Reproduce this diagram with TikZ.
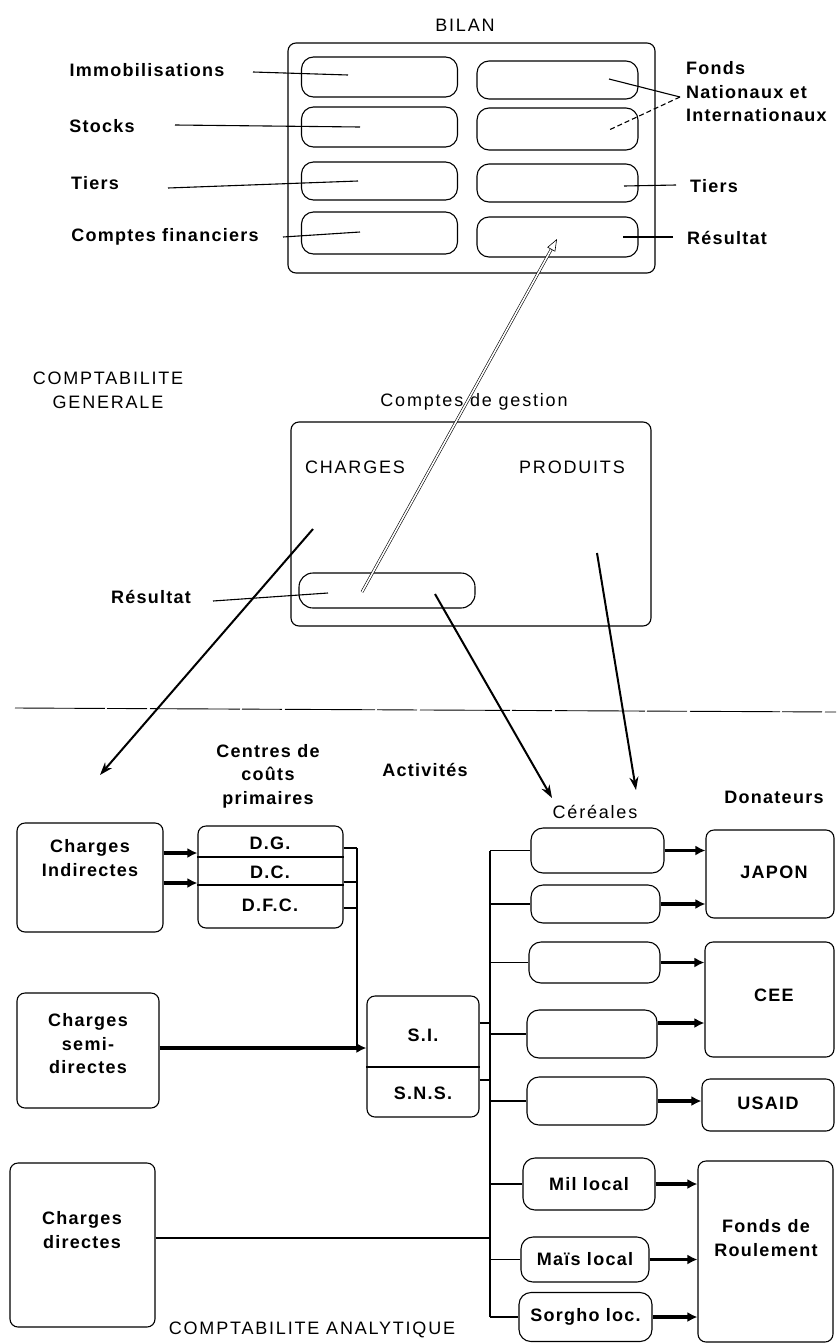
\documentclass[tikz,border=0pt]{standalone}
\usepackage{fontspec}
\setmainfont{Liberation Sans}
\newfontfamily\labfont{Liberation Sans}[LetterSpace=7]
\newfontfamily\ttlfont{Liberation Sans}[LetterSpace=10]
\usetikzlibrary{arrows.meta}
\begin{document}
\begin{tikzpicture}[x=1pt,y=-1pt,
  box/.style={draw, line width=1.1pt, rounded corners=8pt, inner sep=0pt},
  pill/.style={draw, line width=1.1pt, rounded corners=12pt, inner sep=0pt},
  lab/.style={font=\labfont\fontsize{18}{23.5}\selectfont\bfseries, inner sep=0pt, align=center},
  ttl/.style={font=\ttlfont\fontsize{18}{24}\selectfont, inner sep=0pt, align=center},
  ln/.style={line width=1.1pt},
  big/.style={line width=2pt, -{Stealth[length=13pt,width=9pt]}},
  fat/.style={line width=3.4pt, -{Latex[length=10pt,width=10pt]}},
  dbl/.style={double, double distance=1.6pt, line width=0.6pt, -{Triangle[open,length=12pt,width=9pt]}},
]
\useasboundingbox (0,0) rectangle (836,1344);

% ---------------- BILAN ----------------
\node[ttl] (bilan) at (465,25) {BILAN};
\node[box, minimum width=367pt, minimum height=230pt] (bb) at (471.5,158) {};
\node[pill, minimum width=156pt, minimum height=40pt] (l1) at (379.5,77) {};
\node[pill, minimum width=156pt, minimum height=40pt] (l2) at (379.5,127) {};
\node[pill, minimum width=156pt, minimum height=38pt] (l3) at (379.5,181) {};
\node[pill, minimum width=156pt, minimum height=42pt] (l4) at (379.5,233) {};
\node[pill, minimum width=161pt, minimum height=38pt] (r1) at (557.5,80) {};
\node[pill, minimum width=161pt, minimum height=42pt] (r2) at (557.5,129) {};
\node[pill, minimum width=161pt, minimum height=38pt] (r3) at (557.5,183) {};
\node[pill, minimum width=161pt, minimum height=40pt] (r4) at (557.5,237) {};

\node[lab] (immo) at (147,70) {Immobilisations};
\node[lab] (stocks) at (102,126) {Stocks};
\node[lab] (tiersl) at (95,183) {Tiers};
\node[lab] (cf) at (165,237) {Comptes financiers};
\coordinate (e1) at (348,75);
\coordinate (e2) at (360,127);
\coordinate (e3) at (358,181);
\coordinate (e4) at (360,232);
\draw[ln] (253,72) -- (e1);
\draw[ln] (175,125) -- (e2);
\draw[ln] (168,188) -- (e3);
\draw[ln] (283,237) -- (e4);

\node[lab, align=left, anchor=west] (fni) at (686,92) {Fonds\\Nationaux et\\Internationaux};
\coordinate (fk) at (680,97);
\coordinate (f1) at (609,79);
\coordinate (f2) at (609,130);
\draw[ln] (fk) -- (f1);
\draw[ln, dash pattern=on 5pt off 3pt] (fk) -- (f2);

\node[lab] (tiersr) at (714,186) {Tiers};
\coordinate (t2) at (624,186);
\draw[ln] (676,185) -- (t2);
\node[lab] (resr) at (727,238) {Résultat};
\coordinate (rr) at (623,237);
\draw[ln] (673,237) -- (rr);

% ---------------- Comptes de gestion ----------------
\node[ttl] (cg) at (108,390) {COMPTABILITE\\GENERALE};
\node[ttl] (cdg) at (474,402) {Comptes de gestion};
\node[box, minimum width=360pt, minimum height=204pt] (gest) at (471,524) {};
\node[ttl] (charges) at (355,467) {CHARGES};
\node[ttl] (produits) at (572,467) {PRODUITS};
\node[pill, minimum width=176pt, minimum height=35pt, rounded corners=14pt] (gres) at (387,590.5) {};
\node[lab] (resl) at (151,597) {Résultat};
\coordinate (gr1) at (328,593);
\draw[ln] (213,601) -- (gr1);

\coordinate (ds) at (362,592);
\coordinate (de) at (557,239);
\draw[dbl] (ds) -- (de);

\coordinate (a1s) at (313,529);
\coordinate (a1e) at (100,775);
\coordinate (a2s) at (435,594);
\coordinate (a2e) at (552,798);
\coordinate (a3s) at (597,553);
\coordinate (a3e) at (636,790);
\draw[big] (a1s) -- (a1e);
\draw[big] (a2s) -- (a2e);
\draw[big] (a3s) -- (a3e);

\draw[line width=0.9pt, dash pattern=on 90pt off 2pt on 40pt off 3pt] (15,708) -- (836,712);

% ---------------- Analytique ----------------
\node[lab] (centres) at (268,776) {Centres de\\coûts\\primaires};
\node[lab] (activ) at (425,770) {Activités};
\node[ttl] (cer) at (595,812) {Céréales};
\node[lab] (don) at (774,797) {Donateurs};

\node[box, minimum width=146pt, minimum height=109pt] (ci) at (90,877.5) {};
\node[lab] (cit) at (90,858) {Charges\\Indirectes};
\node[box, minimum width=145pt, minimum height=102pt] (cc) at (270.5,877) {};
\draw[ln] (cc.west |- 0,857) -- (cc.east |- 0,857);
\draw[ln] (cc.west |- 0,885) -- (cc.east |- 0,885);
\node[lab] (dg) at (270,843) {D.G.};
\node[lab] (dc) at (270,872) {D.C.};
\node[lab] (dfc) at (270,905) {D.F.C.};
\draw[fat] (ci.east |- 0,853) -- (cc.west |- 0,853);
\draw[fat] (ci.east |- 0,883) -- (cc.west |- 0,883);

\coordinate (vx) at (357,1048);
\draw[ln] (cc.east |- 0,848) -- (vx |- 0,848);
\draw[ln] (cc.east |- 0,882) -- (vx |- 0,882);
\draw[ln] (cc.east |- 0,908) -- (vx |- 0,908);
\draw[ln] (vx |- 0,848) -- (vx);

\node[box, minimum width=142pt, minimum height=115pt] (csd) at (88,1050.5) {};
\node[lab] (csdt) at (88,1044) {Charges\\semi-\\directes};
\node[box, minimum width=112pt, minimum height=121pt] (sis) at (423,1056.5) {};
\draw[ln] (sis.west |- 0,1067) -- (sis.east |- 0,1067);
\node[lab] (si) at (423,1035) {S.I.};
\node[lab] (sns) at (423,1093) {S.N.S.};
\draw[fat] (csd.east |- vx) -- (sis.west |- vx);

\node[box, minimum width=145pt, minimum height=164pt] (cd) at (82.5,1245) {};
\node[lab] (cdt) at (82,1230) {Charges\\directes};

\node[ttl] (can) at (312,1330) {COMPTABILITE ANALYTIQUE};

% cereal boxes
\node[pill, minimum width=133pt, minimum height=45pt] (c1) at (597.5,850.5) {};
\node[pill, minimum width=129pt, minimum height=38pt] (c2) at (595.5,904) {};
\node[pill, minimum width=131pt, minimum height=41pt] (c3) at (594.5,962.5) {};
\node[pill, minimum width=130pt, minimum height=48pt] (c4) at (592,1034) {};
\node[pill, minimum width=130pt, minimum height=48pt] (c5) at (592,1101) {};
\node[pill, minimum width=132pt, minimum height=52pt, font=\labfont\fontsize{18}{23}\selectfont\bfseries] (c6) at (589,1184) {Mil local};
\node[pill, minimum width=128pt, minimum height=45pt, font=\labfont\fontsize{18}{23}\selectfont\bfseries] (c7) at (585,1259.5) {Maïs local};
\node[pill, minimum width=133pt, minimum height=49pt, font=\labfont\fontsize{18}{23}\selectfont\bfseries] (c8) at (585.5,1317) {Sorgho loc.};

\coordinate (bus) at (490,0);
\draw[ln] (c1.west -| bus) -- (c8.west -| bus);
\foreach \c in {c1,c2,c3,c4,c5,c6,c7,c8} \draw[ln] (\c.west -| bus) -- (\c.west);
\draw[ln] (sis.east |- 0,1023) -- (bus |- 0,1023);
\draw[ln] (sis.east |- 0,1080) -- (bus |- 0,1080);
\draw[line width=2.2pt] (cd.east |- 0,1238) -- (bus |- 0,1238);

% donors
\node[box, minimum width=128pt, minimum height=88pt] (jap) at (770,874) {};
\node[lab] (japt) at (774,872) {JAPON};
\node[box, minimum width=129pt, minimum height=115pt] (cee) at (769.5,999.5) {};
\node[lab] (ceet) at (774,995) {CEE};
\node[box, minimum width=132pt, minimum height=52pt] (usaid) at (768,1105) {};
\node[lab] (usaidt) at (768,1103) {USAID};
\node[box, minimum width=135pt, minimum height=181pt] (fdr) at (765.5,1251.5) {};
\node[lab] (fdrt) at (766,1238) {Fonds de\\Roulement};

\draw[fat] (c1.east) -- (c1.east -| jap.west);
\draw[fat] (c2.east) -- (c2.east -| jap.west);
\draw[fat] (c3.east) -- (c3.east -| cee.west);
\draw[fat] (c4.east |- 0,1023) -- (cee.west |- 0,1023);
\draw[fat] (c5.east) -- (c5.east -| usaid.west);
\draw[fat] (c6.east) -- (c6.east -| fdr.west);
\draw[fat] (c7.east) -- (c7.east -| fdr.west);
\draw[fat] (c8.east) -- (c8.east -| fdr.west);
\end{tikzpicture}
\end{document}
